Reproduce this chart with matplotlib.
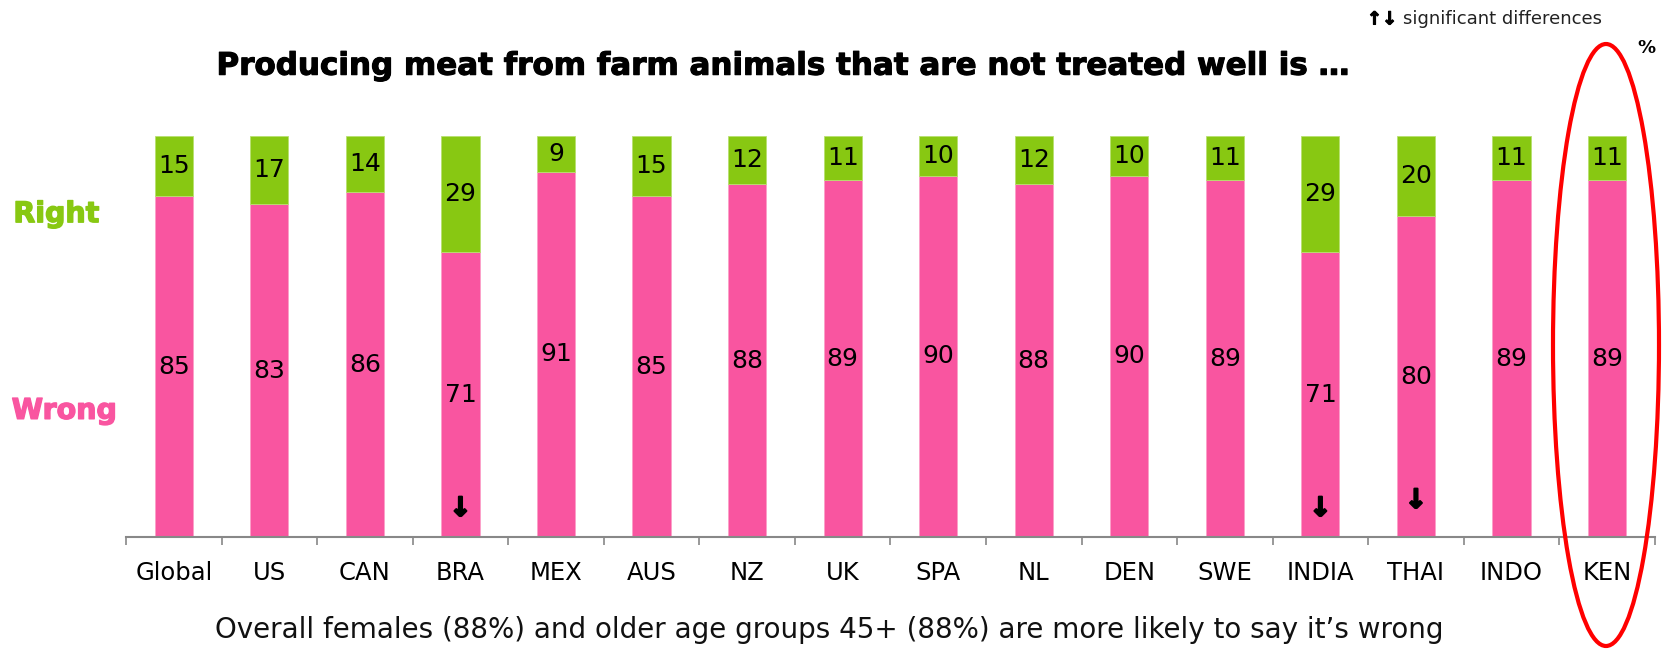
import matplotlib
matplotlib.use("Agg")
import matplotlib.pyplot as plt
import matplotlib.patheffects as pe
import numpy as np
from matplotlib.patches import Ellipse

countries = ["Global", "US", "CAN", "BRA", "MEX", "AUS", "NZ", "UK", "SPA", "NL",
             "DEN", "SWE", "INDIA", "THAI", "INDO", "KEN"]
wrong = [85, 83, 86, 71, 91, 85, 88, 89, 90, 88, 90, 89, 71, 80, 89, 89]
right = [15, 17, 14, 29, 9, 15, 12, 11, 10, 12, 10, 11, 29, 20, 11, 11]
# countries with a significant difference (down)
sig_down = ["BRA", "INDIA", "THAI"]

pink = '#F955A0'
green = '#88C812'

plt.rcParams['font.family'] = ['DejaVu Sans']

fig = plt.figure(figsize=(16.69, 6.49), dpi=100)
ax = fig.add_axes([0.0755, 0.1726, 0.916, 0.618])

x = np.arange(len(countries))
w = np.array(wrong)
r = np.array(right)
ax.bar(x, w, width=0.4, color=pink, edgecolor='#FBA0C8', lw=0.6)
ax.bar(x, r, width=0.4, bottom=w, color=green, edgecolor='#B8E070', lw=0.6)

for i in range(len(countries)):
    ax.text(x[i], w[i] / 2, str(wrong[i]), ha='center', va='center', fontsize=18)
    ax.text(x[i], w[i] + r[i] / 2, str(right[i]), ha='center', va='center', fontsize=18)
    if countries[i] in sig_down:
        yy = 7 if countries[i] != "THAI" else 9
        ax.text(x[i], yy, "↓", ha='center', va='center', fontsize=19, fontweight='bold',
                path_effects=[pe.withStroke(linewidth=1.5, foreground='black')])

ax.set_xlim(-0.5, len(countries) - 0.5)
ax.set_ylim(0, 100)
ax.set_xticks(x)
ax.set_xticklabels(countries, fontsize=17.5)
ax.set_xticks(np.arange(-0.5, len(countries) - 0.4, 1), minor=True)
ax.tick_params(axis='x', which='major', length=0, pad=17)
ax.tick_params(axis='x', which='minor', length=6, color='#888888', width=1.2)
ax.set_yticks([])
for s in ['top', 'right', 'left']:
    ax.spines[s].set_visible(False)
ax.spines['bottom'].set_color('#888888')
ax.spines['bottom'].set_linewidth(1.5)

fig.text(0.47, 0.898, "Producing meat from farm animals that are not treated well is …",
         ha='center', va='center', fontsize=22.3, fontweight='bold',
         path_effects=[pe.withStroke(linewidth=0.8, foreground='black')])
fig.text(0.008, 0.670, "Right", color=green, fontsize=20.5, fontweight='bold', va='center',
         path_effects=[pe.withStroke(linewidth=1.0, foreground=green)])
fig.text(0.007, 0.367, "Wrong", color=pink, fontsize=20.5, fontweight='bold', va='center',
         path_effects=[pe.withStroke(linewidth=1.0, foreground=pink)])
fig.text(0.819, 0.97, "↑↓", fontsize=13, fontweight='bold', va='center',
         path_effects=[pe.withStroke(linewidth=0.8, foreground='black')])
fig.text(0.8405, 0.97, "significant differences", fontsize=13, va='center', color='#222222')
fig.text(0.992, 0.926, "%", fontsize=13, fontweight='bold', ha='right', va='center')
fig.text(0.497, 0.03, "Overall females (88%) and older age groups 45+ (88%) are more likely to say it’s wrong",
         ha='center', va='center', fontsize=20, color='#111111')

fig.add_artist(Ellipse((1606 / 1669, 1 - 345 / 649), 106 / 1669, 602 / 649,
                       transform=fig.transFigure, fill=False, edgecolor='red', lw=3))

fig.savefig('out.png', dpi=100)
